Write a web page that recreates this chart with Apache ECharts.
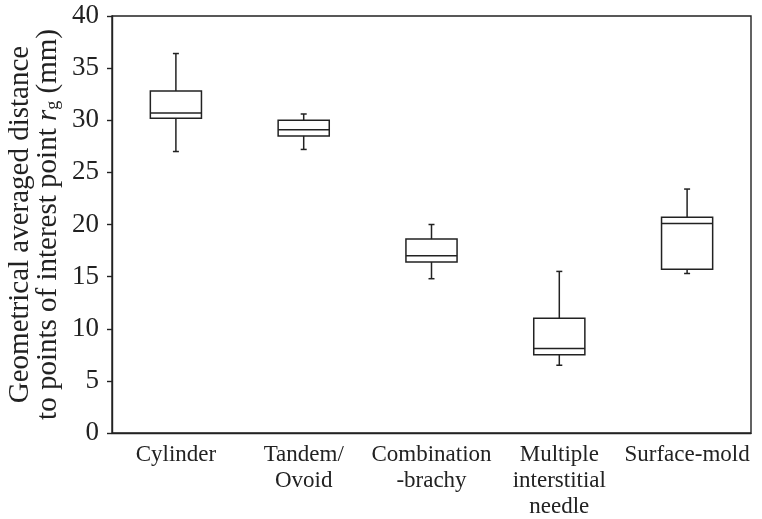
<!DOCTYPE html>
<html>
<head>
<meta charset="utf-8">
<script src="https://cdn.jsdelivr.net/npm/echarts@6/dist/echarts.min.js"></script>
<style>
html,body{margin:0;padding:0;background:#fff;}
#chart{width:762px;height:519px;}
</style>
</head>
<body>
<div id="chart"></div>
<script>
var categories = ['Cylinder', 'Tandem/\nOvoid', 'Combination\n-brachy', 'Multiple\ninterstitial\nneedle', 'Surface-mold'];
var lowerWhisker = [27.0, 27.2, 14.8, 6.5, 15.3];
var q1 = [30.2, 28.5, 16.4, 7.5, 15.7];
var medianValues = [30.7, 29.1, 17.0, 8.1, 20.1];
var q3 = [32.8, 30.0, 18.6, 11.0, 20.7];
var upperWhisker = [36.4, 30.6, 20.0, 15.5, 23.4];
var yTicks = [0, 5, 10, 15, 20, 25, 30, 35, 40];

var FONT = '"Liberation Serif", "Times New Roman", serif';
var INK = '#222';

var boxData = categories.map(function (c, i) {
  return [i, lowerWhisker[i], q1[i], medianValues[i], q3[i], upperWhisker[i]];
});

function renderBox(params, api) {
  var x = api.value(0);
  var pMin = api.coord([x, api.value(1)]);
  var pQ1 = api.coord([x, api.value(2)]);
  var pMed = api.coord([x, api.value(3)]);
  var pQ3 = api.coord([x, api.value(4)]);
  var pMax = api.coord([x, api.value(5)]);
  var bw = api.size([1, 0])[0] * 0.4;
  var cx = pMed[0];
  var cap = 3;
  var st = { stroke: INK, lineWidth: 1.5, fill: null };
  return {
    type: 'group',
    children: [
      { type: 'rect', shape: { x: cx - bw / 2, y: pQ3[1], width: bw, height: pQ1[1] - pQ3[1] }, style: { stroke: INK, lineWidth: 1.5, fill: '#fff' } },
      { type: 'line', shape: { x1: cx - bw / 2, y1: pMed[1], x2: cx + bw / 2, y2: pMed[1] }, style: st },
      { type: 'line', shape: { x1: cx, y1: pQ3[1], x2: cx, y2: pMax[1] }, style: st },
      { type: 'line', shape: { x1: cx, y1: pQ1[1], x2: cx, y2: pMin[1] }, style: st },
      { type: 'line', shape: { x1: cx - cap, y1: pMax[1], x2: cx + cap, y2: pMax[1] }, style: st },
      { type: 'line', shape: { x1: cx - cap, y1: pMin[1], x2: cx + cap, y2: pMin[1] }, style: st }
    ]
  };
}

var chart = echarts.init(document.getElementById('chart'), null, { renderer: 'canvas' });
chart.setOption({
  animation: false,
  backgroundColor: '#fff',
  grid: { left: 112, right: 11, top: 16, bottom: 86, containLabel: false, outerBoundsMode: 'none', show: true, borderColor: INK, borderWidth: 1.4, backgroundColor: 'transparent' },
  xAxis: {
    type: 'category',
    data: categories,
    boundaryGap: true,
    axisLine: { show: true, lineStyle: { color: INK, width: 1.4 } },
    axisTick: { show: false },
    axisLabel: { fontFamily: FONT, fontSize: 23, color: INK, margin: 9, lineHeight: 26, interval: 0 }
  },
  yAxis: {
    type: 'value',
    min: yTicks[0],
    max: yTicks[yTicks.length - 1],
    interval: 5,
    splitLine: { show: false },
    axisLine: { show: true, lineStyle: { color: INK, width: 1.4 } },
    axisTick: { show: true, inside: false, length: 5, lineStyle: { color: INK, width: 1.4 } },
    axisLabel: { fontFamily: FONT, fontSize: 27, color: INK, margin: 13 },
    name: 'Geometrical averaged distance\nto points of interest point {i|r}{s|g} (mm)',
    nameLocation: 'middle',
    nameRotate: 90,
    nameGap: 50,
    nameMoveOverlap: false,
    nameTextStyle: {
      fontFamily: FONT, fontSize: 29, color: INK, lineHeight: 28,
      rich: {
        i: { fontFamily: FONT, fontSize: 29, fontStyle: 'italic', color: INK, lineHeight: 28 },
        s: { fontFamily: FONT, fontSize: 18, color: INK, verticalAlign: 'bottom', padding: [12, 0, 0, 0], lineHeight: 28 }
      }
    }
  },
  series: [{
    type: 'custom',
    renderItem: renderBox,
    encode: { x: 0, y: [1, 2, 3, 4, 5] },
    data: boxData,
    z: 5
  }]
});
</script>
</body>
</html>
